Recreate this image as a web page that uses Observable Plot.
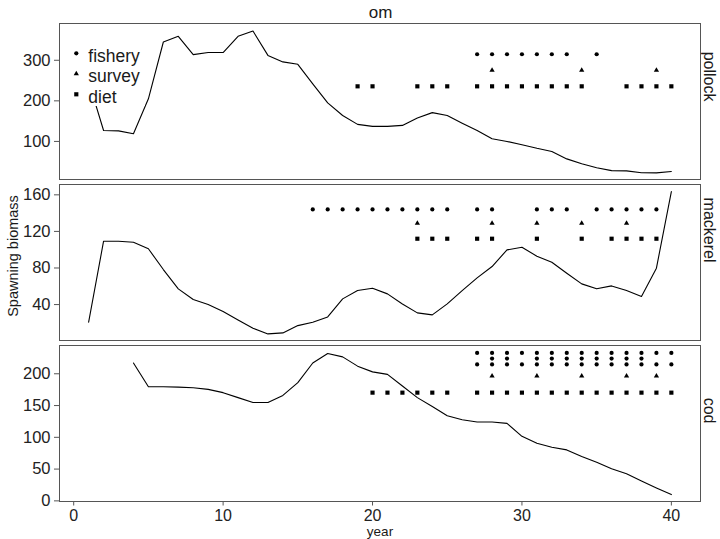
<!DOCTYPE html>
<html>
<head>
<meta charset="utf-8">
<script src="https://cdn.jsdelivr.net/npm/d3@7"></script>
<script src="https://cdn.jsdelivr.net/npm/@observablehq/plot@0.6"></script>
<style>
  html, body { margin: 0; padding: 0; background: #fff; }
  #chart { position: relative; width: 720px; height: 539px; font-family: "Liberation Sans", Arial, sans-serif; color: #1a1a1a; overflow: hidden; }
  .panel { position: absolute; left: 0; }
  .panel svg { overflow: visible; }
  #overlay { position: absolute; left: 0; top: 0; z-index: 5; }
</style>
</head>
<body>
<div id="chart"></div>
<script>
// ---------- data ----------
const years = d3.range(1, 41);
const xTicks = [0, 10, 20, 30, 40];
const panelNames = ["pollock", "mackerel", "cod"];
const sources = ["fishery", "survey", "diet"];
const titleText = "om";
const xLabel = "year";
const yLabel = "Spawning biomass";

const pollockBiomass = [248, 127, 126, 119, 205, 345, 359, 314, 319, 319, 359, 372, 312, 296, 290, 242, 195, 164, 142, 137,
  137, 139.5, 158, 171, 164, 145, 127, 106.6, 100, 92, 83, 75, 57, 45, 35, 28, 27.5, 23, 22.6, 26];
const mackerelBiomass = [20.7, 109.3, 109.3, 108.2, 101, 78.3, 57.2, 45.5, 40, 32.4, 23.2, 14.1, 7.9, 9, 17, 20.7, 26.5, 46.2, 55.3, 57.9,
  51.7, 40.7, 30.9, 28.7, 40.7, 55.3, 69.2, 81.6, 99.8, 102.7, 92.9, 86.3, 74.3, 62.6, 57.2, 60.4, 55.3, 48.8, 79.8, 163.6];
const codBiomass = [null, null, null, 217, 179.7, 179.7, 179, 178, 175.5, 170.3, 162.5, 154.7, 154.7, 166, 186, 217, 231.8, 226.6, 212, 203,
  199, 180.7, 162.5, 148.4, 133.9, 127.6, 124, 124, 121.9, 101.6, 90.6, 84.4, 80.2, 69.8, 60.9, 50.5, 42.7, 31.3, 20.3, 9.9];

const pollockTicks = [100, 200, 300];
const mackerelTicks = [40, 80, 120, 160];
const codTicks = [0, 50, 100, 150, 200];

const pollockDomain = [6.2, 390.6];
const mackerelDomain = [0.7, 171.3];
const codDomain = [-1, 244.5];

// years with data by source
const pollockFishery = [27, 28, 29, 30, 31, 32, 33, 35];
const pollockSurvey = [28, 34, 39];
const pollockDiet = [19, 20, 23, 24, 25, 27, 28, 29, 30, 31, 32, 33, 34, 37, 38, 39, 40];
const mackerelFishery = [16, 17, 18, 19, 20, 21, 22, 23, 24, 25, 27, 28, 31, 32, 33, 35, 36, 37, 38, 39];
const mackerelSurvey = [23, 28, 31, 34, 37];
const mackerelDiet = [23, 24, 25, 27, 28, 31, 34, 36, 37, 38, 39];
const codFishery1 = [27, 28, 29, 30, 31, 32, 33, 34, 35, 36, 37, 38, 39, 40];
const codFishery2 = [28, 29, 31, 32, 33, 34, 35, 36, 37, 38];
const codFishery3 = [27, 28, 29, 30, 31, 32, 33, 34, 35, 36, 37, 38, 39, 40];
const codSurvey = [28, 31, 34, 37, 39];
const codDiet = [20, 21, 22, 23, 24, 25, 27, 28, 29, 30, 31, 32, 33, 34, 35, 36, 37, 38, 39, 40];

// marker levels (y values): fishery, survey, diet
const pollockLevels = [314.8, 275.3, 235.8];
const mackerelLevels = [144, 129, 112];
const codFisheryLevels = [232.8, 224, 214.7];
const codLevels = [196.4, 170.3];

// ---------- helpers ----------
const pts = (yrs, level, type) => yrs.map(y => ({year: y, value: level, type}));
const FONT = "Liberation Sans, Arial, sans-serif";
const PANEL_H = 156;
const symSpec = {fishery: {symbol: "circle", r: 2.1}, survey: {symbol: "triangle", r: 1.95}, diet: {symbol: "square", r: 2.35}};

function panel({values, points, domain, ticks, name, top, bottomAxis}) {
  const mt = 4, mb = bottomAxis ? 38 : 4;
  const lineData = years.map((yr, i) => ({year: yr, value: values[i]}));
  const marks = [
    Plot.frame({stroke: "#555", strokeWidth: 1}),
    Plot.axisY({ticks, tickSize: 5, tickPadding: 4, label: null, stroke: "#555", fill: "#222", fontSize: 16.5}),
    Plot.line(lineData, {x: "year", y: "value", stroke: "black", strokeWidth: 1.1}),
    ...sources.map(s => Plot.dot(points.filter(d => d.type === s), {
      x: "year", y: "value", symbol: symSpec[s].symbol, r: symSpec[s].r, fill: "black", stroke: "none"
    })),
    Plot.text([name], {frameAnchor: "right", dx: 9, rotate: 90, text: d => d, fontSize: 16, fill: "#1a1a1a"})
  ];
  if (bottomAxis) marks.push(Plot.axisX({ticks: xTicks, tickSize: 4.5, tickPadding: 4, label: null, stroke: "#555", fill: "#222", fontSize: 16}));
  const p = Plot.plot({
    width: 720, height: mt + PANEL_H + mb,
    marginLeft: 59, marginRight: 20, marginTop: mt, marginBottom: mb,
    x: {domain: [-0.95, 41.95], axis: null},
    y: {domain, axis: null},
    style: {fontFamily: FONT, fontSize: "16.5px", background: "transparent", color: "#222", overflow: "visible"},
    marks
  });
  const wrap = document.createElement("div");
  wrap.className = "panel";
  wrap.style.top = (top - mt) + "px";
  wrap.appendChild(p);
  document.getElementById("chart").appendChild(wrap);
}

panel({
  values: pollockBiomass, domain: pollockDomain, ticks: pollockTicks, name: panelNames[0], top: 23.3,
  points: [...pts(pollockFishery, pollockLevels[0], "fishery"), ...pts(pollockSurvey, pollockLevels[1], "survey"), ...pts(pollockDiet, pollockLevels[2], "diet")]
});
panel({
  values: mackerelBiomass, domain: mackerelDomain, ticks: mackerelTicks, name: panelNames[1], top: 184,
  points: [...pts(mackerelFishery, mackerelLevels[0], "fishery"), ...pts(mackerelSurvey, mackerelLevels[1], "survey"), ...pts(mackerelDiet, mackerelLevels[2], "diet")]
});
panel({
  values: codBiomass, domain: codDomain, ticks: codTicks, name: panelNames[2], top: 344.5, bottomAxis: true,
  points: [...pts(codFishery1, codFisheryLevels[0], "fishery"), ...pts(codFishery2, codFisheryLevels[1], "fishery"), ...pts(codFishery3, codFisheryLevels[2], "fishery"),
           ...pts(codSurvey, codLevels[0], "survey"), ...pts(codDiet, codLevels[1], "diet")]
});

// ---------- overlay: titles + legend (white legend box hides line, as in reference) ----------
const ov = d3.select("#chart").append("svg").attr("id", "overlay").attr("width", 720).attr("height", 539)
  .attr("font-family", FONT).attr("fill", "#1a1a1a");
ov.append("text").attr("x", 380.5).attr("y", 18.3).attr("text-anchor", "middle").attr("font-size", 17).text(titleText);
ov.append("text").attr("x", 380).attr("y", 536.3).attr("text-anchor", "middle").attr("font-size", 13.5).text(xLabel);
ov.append("text").attr("transform", "translate(17.5,256) rotate(-90)").attr("text-anchor", "middle").attr("font-size", 14.5).text(yLabel);

ov.append("rect").attr("x", 60).attr("y", 25).attr("width", 85).attr("height", 81).attr("fill", "white");
const symD3 = {circle: d3.symbolCircle, triangle: d3.symbolTriangle, square: d3.symbolSquare};
sources.forEach((s, i) => {
  const cy = 53.3 + i * 20.5;
  const r = symSpec[s].r;
  ov.append("path").attr("transform", `translate(76.3,${cy})`)
    .attr("d", d3.symbol(symD3[symSpec[s].symbol], Math.PI * r * r)()).attr("fill", "black");
  ov.append("text").attr("x", 88.3).attr("y", cy + 8.3).attr("font-size", 17.5).text(s);
});
</script>
</body>
</html>
